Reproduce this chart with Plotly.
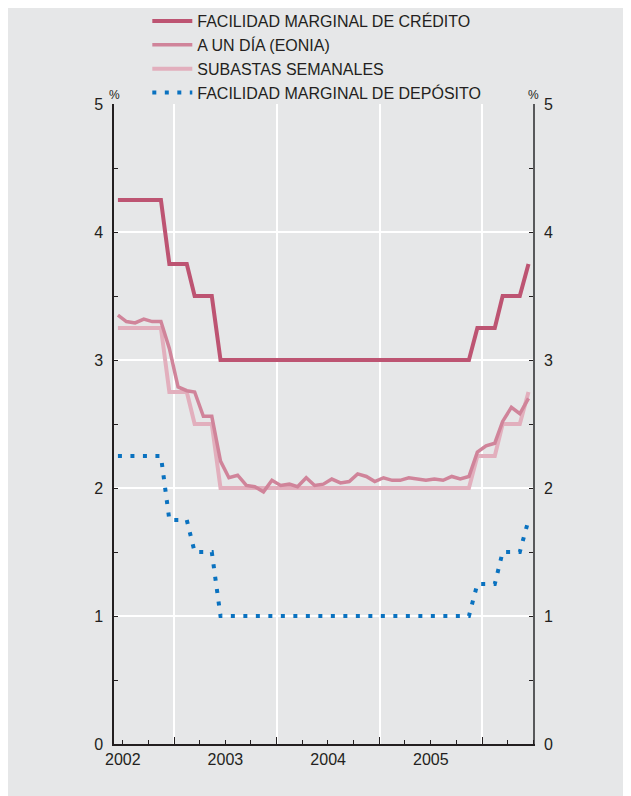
import pandas as pd
import plotly.graph_objects as go

# monthly observations, June 2002 - June 2006 (plotted mid-month)
meses = pd.date_range("2002-06-01", "2006-06-01", freq="MS") + pd.Timedelta(days=14)

credito = [
    4.25, 4.25, 4.25, 4.25, 4.25, 4.25, 3.75,
    3.75, 3.75, 3.50, 3.50, 3.50, 3.00, 3.00, 3.00, 3.00, 3.00, 3.00, 3.00,
    3.00, 3.00, 3.00, 3.00, 3.00, 3.00, 3.00, 3.00, 3.00, 3.00, 3.00, 3.00,
    3.00, 3.00, 3.00, 3.00, 3.00, 3.00, 3.00, 3.00, 3.00, 3.00, 3.00, 3.25,
    3.25, 3.25, 3.50, 3.50, 3.50, 3.75,
]
eonia = [
    3.35, 3.30, 3.29, 3.32, 3.30, 3.30, 3.09,
    2.79, 2.76, 2.75, 2.56, 2.56, 2.21, 2.08, 2.10, 2.02, 2.01, 1.97, 2.06,
    2.02, 2.03, 2.01, 2.08, 2.02, 2.03, 2.07, 2.04, 2.05, 2.11, 2.09, 2.05,
    2.08, 2.06, 2.06, 2.08, 2.07, 2.06, 2.07, 2.06, 2.09, 2.07, 2.09, 2.28,
    2.33, 2.35, 2.52, 2.63, 2.58, 2.70,
]
subastas = [
    3.25, 3.25, 3.25, 3.25, 3.25, 3.25, 2.75,
    2.75, 2.75, 2.50, 2.50, 2.50, 2.00, 2.00, 2.00, 2.00, 2.00, 2.00, 2.00,
    2.00, 2.00, 2.00, 2.00, 2.00, 2.00, 2.00, 2.00, 2.00, 2.00, 2.00, 2.00,
    2.00, 2.00, 2.00, 2.00, 2.00, 2.00, 2.00, 2.00, 2.00, 2.00, 2.00, 2.25,
    2.25, 2.25, 2.50, 2.50, 2.50, 2.75,
]
deposito = [
    2.25, 2.25, 2.25, 2.25, 2.25, 2.25, 1.75,
    1.75, 1.75, 1.50, 1.50, 1.50, 1.00, 1.00, 1.00, 1.00, 1.00, 1.00, 1.00,
    1.00, 1.00, 1.00, 1.00, 1.00, 1.00, 1.00, 1.00, 1.00, 1.00, 1.00, 1.00,
    1.00, 1.00, 1.00, 1.00, 1.00, 1.00, 1.00, 1.00, 1.00, 1.00, 1.00, 1.25,
    1.25, 1.25, 1.50, 1.50, 1.50, 1.75,
]

GRIS = "#e6e7e8"
TXT = "#231f20"

fig = go.Figure()
fig.add_trace(go.Scatter(x=meses, y=subastas, mode="lines", name="SUBASTAS SEMANALES",
                         line=dict(color="#e2afbd", width=4), legendrank=3))
fig.add_trace(go.Scatter(x=meses, y=eonia, mode="lines", name="A UN DÍA (EONIA)",
                         line=dict(color="#d0849a", width=3.5), legendrank=2))
fig.add_trace(go.Scatter(x=meses, y=credito, mode="lines", name="FACILIDAD MARGINAL DE CRÉDITO",
                         line=dict(color="#bd5472", width=4), legendrank=1))
fig.add_trace(go.Scatter(x=meses, y=deposito, mode="lines", name="FACILIDAD MARGINAL DE DEPÓSITO",
                         line=dict(color="#0a72c0", width=4, dash="4px,8.5px"), legendrank=4))
# invisible trace so the right-hand axis is drawn
fig.add_trace(go.Scatter(x=meses[:1], y=credito[:1], yaxis="y2", mode="lines",
                         line=dict(width=0), showlegend=False, hoverinfo="skip"))

eje_y = dict(range=[0, 5], dtick=1, tickfont=dict(size=16, color=TXT),
             ticks="inside", ticklen=4, tickcolor=TXT, zeroline=False,
             minor=dict(dtick=0.5, ticks="inside", ticklen=4, tickcolor=TXT, showgrid=False))
fig.update_layout(
    width=631, height=796,
    margin=dict(l=106, r=106, t=96, b=60, autoexpand=False),
    paper_bgcolor=GRIS, plot_bgcolor=GRIS,
    font=dict(family="Liberation Sans, Arial, sans-serif", size=16, color=TXT),
    xaxis=dict(type="date", range=["2002-06-01", "2006-07-01"], dtick="M12", tick0="2002-01-01",
               tickformat="%Y", ticklabelmode="period", ticks="inside", ticklen=7, tickcolor=TXT,
               tickfont=dict(size=16, color=TXT), showgrid=True, gridcolor="white", gridwidth=1.5,
               showline=True, linecolor=TXT, linewidth=1.5, zeroline=False,
               minor=dict(dtick="M3", ticks="inside", ticklen=4, tickcolor=TXT, showgrid=False)),
    yaxis=dict(**eje_y, showgrid=True, gridcolor="white", gridwidth=1.5,
               showline=True, linecolor=TXT, linewidth=1.5, ticklabelstandoff=6),
    yaxis2=dict(**eje_y, overlaying="y", side="right", showgrid=False,
                showline=True, linecolor="#58595b", linewidth=1.5, ticklabelstandoff=6),
    legend=dict(x=0.0795, y=1.156, xanchor="left", yanchor="top", bgcolor="rgba(0,0,0,0)",
                font=dict(size=16, color=TXT), itemwidth=40),
    annotations=[
        dict(text="%", xref="paper", yref="paper", x=0, y=1.0, xanchor="center", yanchor="bottom",
             showarrow=False, font=dict(size=12, color=TXT)),
        dict(text="%", xref="paper", yref="paper", x=1, y=1.0, xanchor="center", yanchor="bottom",
             showarrow=False, font=dict(size=12, color=TXT)),
    ],
)

fig.write_html("out.html")
